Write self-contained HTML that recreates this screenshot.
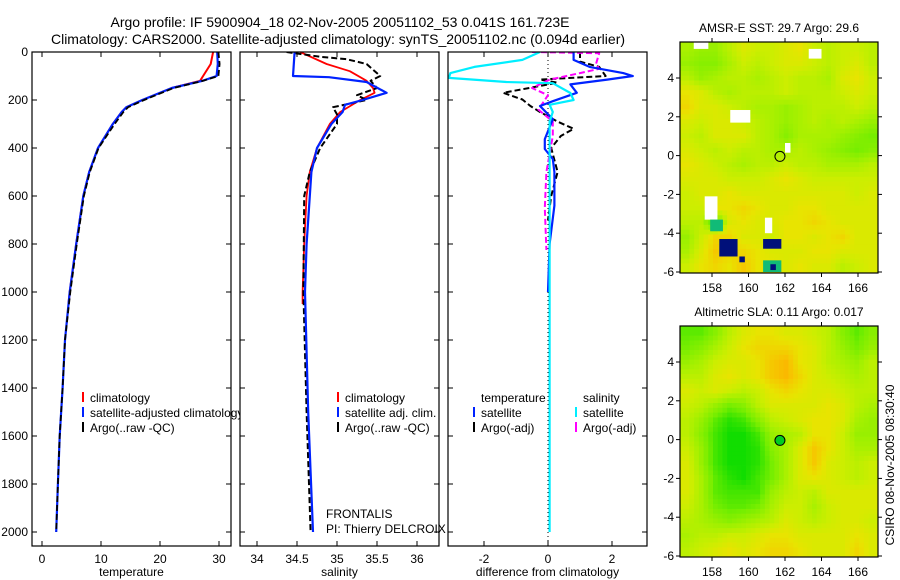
<!DOCTYPE html>
<html><head><meta charset="utf-8"><style>
html,body{margin:0;padding:0;background:#fff;}
svg{display:block;font-family:"Liberation Sans",sans-serif;}
</style></head><body>
<svg id="fig" width="900" height="580" viewBox="0 0 900 580" xmlns="http://www.w3.org/2000/svg"></svg>
<script>
// ---------- DATA ----------
const tempDepth = [0,50,100,120,150,200,230,250,300,400,500,600,800,1000,1200,1400,1600,1800,2000];
const tempArgo  = [29.9,30.1,29.9,27.3,22.3,17.3,14.6,13.8,12.3,9.6,8.1,7.1,5.9,4.8,3.9,3.5,3.0,2.7,2.4];
const tempClimDepth = [0,50,100,120,150,200,230,250,300,400,500,600,800,1000,1050];
const tempClim  = [29.0,28.6,27.3,26.8,22,17,14.3,13.5,12,9.5,8,7,5.8,4.7,4.5];
const tempSat   = [29.7,29.8,29.6,27.2,22,17,14.3,13.5,12,9.5,8,7,5.8,4.7,3.9,3.5,3.0,2.7,2.4];

const salDepth  = [0,100,105,125,170,200,220,250,300,400,500,600,800,1000,1500,2000];
const salSat    = [34.47,34.45,34.9,35.37,35.62,35.32,35.1,35.07,34.93,34.75,34.68,34.66,34.62,34.6,34.64,34.7];
const salClimDepth = [0,50,80,120,150,170,200,250,300,400,500,600,800,1000,1050];
const salClim   = [34.54,34.87,35.16,35.37,35.45,35.47,35.29,35.04,34.91,34.75,34.66,34.62,34.59,34.57,34.57];
const salArgoDepth = [0,20,30,50,100,120,150,180,200,230,260,300,400,500,600,1000,1500,2000];
const salArgo   = [34.37,34.79,35.12,35.37,35.54,35.42,35.5,35.25,35.37,34.95,35.0,35.0,34.79,34.66,34.59,34.58,34.62,34.67];

const dTDepth   = [0,33,62,88,100,115,135,170,205,225,280,363,404,446,500,640,800,1000];
const dTSat     = [0.8,0.8,1.3,2.35,2.65,1.85,0.7,0.9,0.15,-0.25,0.15,-0.1,-0.1,0.15,0.2,0.2,0.05,0.0];
const dTArgoDepth = [0,40,62,100,115,128,170,198,225,250,290,320,350,400,500,600,700];
const dTArgo    = [1.0,1.0,1.6,1.8,-0.25,0.3,-1.4,-0.8,-0.55,-0.25,0.3,0.8,0.4,0.1,0.3,0.1,0.0];
const dSDepth   = [0,33,62,88,108,125,130,171,200,220,250,290,500,1000,1500,2000];
const dSSat     = [-0.25,-0.8,-2.3,-3.05,-3.1,-1.3,0.15,0.7,0.8,0.05,0.15,0.05,0.05,0.05,0.05,0.05];
const dSArgoDepth = [0,5,50,70,88,115,150,180,240,290,350,500,650,825];
const dSArgo    = [-0.5,1.6,1.5,1.6,1.0,0.05,-0.5,0.0,-0.3,0.15,0.15,-0.05,-0.1,-0.05];

const depthTicks = [0,200,400,600,800,1000,1200,1400,1600,1800,2000];
const tempTicks = [0,10,20,30];
const salTicks = [34,34.5,35,35.5,36];
const diffTicks = [-2,0,2];
const lonTicks = [158,160,162,164,166];
const latTicks = [4,2,0,-2,-4,-6];

const sstGrid = [
[.55,.5,.5,.6,.7,.65,.65,.7,.75,.65,.6,.65,.65,.6],
[.5,.45,.45,.55,.65,.6,.65,.7,.7,.65,.6,.65,.7,.6],
[.6,.5,.55,.6,.6,.55,.6,.65,.6,.6,.55,.7,.75,.65],
[.75,.7,.6,.55,.6,.6,.6,.65,.6,.6,.6,.65,.7,.65],
[.8,.7,.7,.65,.6,.55,.55,.5,.55,.6,.6,.6,.65,.6],
[.7,.65,.7,.7,.65,.6,.55,.5,.55,.6,.55,.6,.55,.5],
[.65,.6,.7,.7,.7,.6,.55,.45,.55,.55,.55,.5,.45,.4],
[.7,.65,.6,.65,.6,.6,.55,.55,.6,.55,.5,.45,.4,.45],
[.75,.7,.65,.6,.55,.6,.6,.65,.6,.6,.55,.55,.55,.6],
[.7,.7,.7,.65,.65,.65,.7,.75,.7,.65,.65,.65,.65,.65],
[.65,.7,.7,.75,.7,.7,.7,.7,.7,.7,.7,.7,.65,.7],
[.65,.65,.75,.75,.8,.75,.7,.7,.75,.75,.7,.7,.7,.7],
[.6,.6,.3,.7,.75,.7,.7,.75,.75,.8,.75,.7,.7,.7],
[.5,.65,.8,.8,.7,.7,.65,.75,.75,.7,.75,.8,.7,.7],
[.55,.7,.85,.8,.8,.75,.7,.7,.7,.75,.75,.7,.7,.7],
[.65,.75,.8,.75,.85,.75,.75,.7,.75,.7,.7,.6,.65,.7]];
const slaGrid = [
[.35,.35,.45,.6,.7,.75,.75,.7,.7,.65,.6,.45,.35,.45],
[.4,.45,.55,.65,.75,.8,.8,.8,.75,.7,.6,.5,.4,.5],
[.5,.55,.65,.7,.7,.75,.85,.9,.75,.7,.6,.55,.5,.6],
[.6,.6,.7,.75,.7,.75,.85,.9,.8,.7,.65,.6,.55,.6],
[.7,.65,.7,.65,.6,.65,.75,.8,.75,.7,.7,.65,.6,.6],
[.65,.6,.5,.4,.45,.6,.7,.7,.7,.7,.75,.7,.6,.55],
[.6,.5,.35,.25,.3,.45,.6,.65,.7,.75,.75,.7,.55,.5],
[.6,.45,.3,.2,.2,.3,.5,.55,.6,.75,.75,.65,.5,.5],
[.65,.5,.3,.2,.2,.25,.45,.55,.7,.85,.75,.65,.55,.55],
[.7,.5,.3,.2,.2,.25,.4,.55,.7,.85,.7,.65,.6,.65],
[.7,.55,.35,.25,.2,.3,.4,.55,.7,.75,.7,.65,.6,.65],
[.7,.55,.35,.3,.3,.3,.5,.6,.65,.6,.7,.7,.7,.7],
[.65,.55,.4,.35,.35,.4,.55,.65,.65,.55,.65,.7,.7,.7],
[.6,.55,.5,.45,.5,.55,.6,.7,.65,.6,.65,.7,.7,.65],
[.55,.6,.6,.65,.65,.7,.75,.75,.7,.7,.7,.7,.75,.7],
[.6,.65,.7,.75,.7,.75,.8,.8,.75,.7,.7,.7,.8,.7]];
// special patches: [lon0, lon1, latTop, latBottom, color]
const sstPatches = [
[157.0,157.8,5.85,5.5,'#fff'],[159.0,160.1,2.35,1.7,'#fff'],[163.3,164.0,5.5,5.0,'#fff'],
[157.6,158.3,-2.1,-3.3,'#fff'],[162.0,162.3,0.65,0.15,'#fff'],[160.9,161.3,-3.2,-4.0,'#fff'],
[157.9,158.6,-3.3,-3.9,'#11bb77'],[158.4,159.4,-4.3,-5.2,'#00107a'],[160.8,161.8,-4.3,-4.8,'#00107a'],
[160.8,161.8,-5.4,-6.0,'#11bb77'],[161.2,161.5,-5.6,-5.9,'#00107a'],[159.5,159.8,-5.2,-5.5,'#00107a']];

// ---------- HELPERS ----------
const svg = document.getElementById('fig');
const NS = 'http://www.w3.org/2000/svg';
function mk(tag, attrs, parent){const e=document.createElementNS(NS,tag);for(const k in attrs)e.setAttribute(k,attrs[k]);(parent||svg).appendChild(e);return e;}
function txt(x,y,s,anchor,size,parent){const t=mk('text',{x:x,y:y,'text-anchor':anchor||'start','font-size':size||12,fill:'#000'},parent);t.textContent=s;return t;}

const PT=52, PB=546;
const yDepth = d => PT + d*0.24;
function linX(v0,p0,v1,p1){return v=>p0+(v-v0)*(p1-p0)/(v1-v0);}
const panels = [
 {x0:32,x1:231,fx:linX(0,42,30,219),ticks:tempTicks,label:'temperature',name:'temperature-panel'},
 {x0:240,x1:439,fx:linX(34,257,36,417),ticks:salTicks,label:'salinity',name:'salinity-panel'},
 {x0:448,x1:647,fx:linX(-2,484,2,612),ticks:diffTicks,label:'difference from climatology',name:'difference-panel'}];

function series(g,p,depths,vals,color,dash,w,name){
  const pts=depths.map((d,i)=>p.fx(vals[i]).toFixed(1)+','+yDepth(d).toFixed(1)).join(' ');
  const e=mk('polyline',{points:pts,fill:'none',stroke:color,'stroke-width':w||2,'stroke-linejoin':'round'},g);
  if(dash)e.setAttribute('stroke-dasharray',dash);
  
  
}

// titles
let t1=txt(340,27,'Argo profile: IF 5900904_18 02-Nov-2005 20051102_53 0.041S 161.723E','middle',14);

let t2=txt(338,44,'Climatology: CARS2000. Satellite-adjusted climatology: synTS_20051102.nc (0.094d earlier)','middle',14);


panels.forEach((p,pi)=>{
  const g=mk('g',{});
  
  
  mk('rect',{x:p.x0,y:PT,width:p.x1-p.x0,height:PB-PT,fill:'#fff'},g);
  const cid='clip'+pi;
  const cp=mk('clipPath',{id:cid},g);mk('rect',{x:p.x0,y:PT,width:p.x1-p.x0,height:PB-PT},cp);
  const inner=mk('g',{'clip-path':'url(#'+cid+')'},g);
  if(pi===0){
    series(inner,p,tempClimDepth,tempClim,'#ff0000',null,2,'climatology-line');
    series(inner,p,tempDepth,tempSat,'#0022ff',null,2.2,'satellite-line');
    series(inner,p,tempDepth,tempArgo,'#000',"6 3",1.8,'argo-line');
  } else if(pi===1){
    series(inner,p,salClimDepth,salClim,'#ff0000',null,1.8,'climatology-line');
    series(inner,p,salArgoDepth,salArgo,'#000',"6 3",2,'argo-line');
    series(inner,p,salDepth,salSat,'#0022ff',null,2.2,'satellite-line');
  } else {
    mk('line',{x1:p.fx(0),y1:PT,x2:p.fx(0),y2:PB,stroke:'#000','stroke-width':1,'stroke-dasharray':'1 3'},inner);
    series(inner,p,dTArgoDepth,dTArgo,'#000',"6 3",2,'temp-argo-diff-line');
    series(inner,p,dSArgoDepth,dSArgo,'#ff00ff',"6 3",2,'sal-argo-diff-line');
    series(inner,p,dTDepth,dTSat,'#0022ff',null,2.2,'temp-satellite-diff-line');
    series(inner,p,dSDepth,dSSat,'#00eeff',null,2.2,'sal-satellite-diff-line');
  }
  mk('rect',{x:p.x0,y:PT,width:p.x1-p.x0,height:PB-PT,fill:'none',stroke:'#000','stroke-width':1.2},g);
  p.ticks.forEach(v=>{
    const x=p.fx(v);
    mk('line',{x1:x,y1:PB,x2:x,y2:PB-5,stroke:'#000'},g);
    mk('line',{x1:x,y1:PT,x2:x,y2:PT+5,stroke:'#000'},g);
    txt(x,563,String(v),'middle',12,g);
  });
  depthTicks.forEach(d=>{
    const y=yDepth(d);
    mk('line',{x1:p.x0,y1:y,x2:p.x0+5,y2:y,stroke:'#000'},g);
    mk('line',{x1:p.x1,y1:y,x2:p.x1-5,y2:y,stroke:'#000'},g);
    if(pi===0) txt(28,y+4,String(d),'end',12,g);
  });
  txt((p.x0+p.x1)/2,576,p.label,'middle',12,g);
  svg.appendChild(g);
  p.g=g;
});

// legends
function leg(g,x,y,color,label,name){
  const lg=mk('g',{},g);
  
  
  mk('line',{x1:x,y1:y-10,x2:x,y2:y,stroke:color,'stroke-width':2},lg);
  txt(x+7,y,label,'start',12,lg);
}
leg(panels[0].g,83,402,'#ff0000','climatology','legend-climatology');
leg(panels[0].g,83,417,'#0022ff','satellite-adjusted climatology','legend-satellite');
leg(panels[0].g,83,432,'#000','Argo(..raw -QC)','legend-argo');
svg.appendChild(panels[1].g);
leg(panels[1].g,338,402,'#ff0000','climatology','legend-climatology-sal');
leg(panels[1].g,338,417,'#0022ff','satellite adj. clim.','legend-satellite-sal');
leg(panels[1].g,338,432,'#000','Argo(..raw -QC)','legend-argo-sal');
let f1=txt(326,518,'FRONTALIS','start',12,panels[1].g);

let f2=txt(326,533,'PI: Thierry DELCROIX','start',12,panels[1].g);

svg.appendChild(panels[2].g);
txt(481,402,'temperature','start',12,panels[2].g);
txt(583,402,'salinity','start',12,panels[2].g);
leg(panels[2].g,474,417,'#0022ff','satellite','legend-temp-satellite');
leg(panels[2].g,474,432,'#000','Argo(-adj)','legend-temp-argo');
leg(panels[2].g,576,417,'#00eeff','satellite','legend-sal-satellite');
leg(panels[2].g,576,432,'#ff00ff','Argo(-adj)','legend-sal-argo');

// ---------- MAPS ----------
const cstops=[[0.2,[17,221,0]],[0.4,[119,238,0]],[0.55,[170,240,0]],[0.65,[204,238,0]],[0.75,[232,228,0]],[0.85,[245,200,0]],[0.95,[255,170,0]]];
function cmap(v){
  if(v<=cstops[0][0])return 'rgb('+cstops[0][1]+')';
  for(let i=1;i<cstops.length;i++){if(v<=cstops[i][0]){const a=cstops[i-1],b=cstops[i],t=(v-a[0])/(b[0]-a[0]);return 'rgb('+a[1].map((c,k)=>Math.round(c+(b[1][k]-c)*t)).join(',')+')';}}
  return 'rgb('+cstops[cstops.length-1][1]+')';
}
function sample(grid,u,v){ // bilinear on cell centers
  const rows=grid.length, cols=grid[0].length;
  let x=u*cols-0.5, y=v*rows-0.5;
  x=Math.max(0,Math.min(cols-1,x)); y=Math.max(0,Math.min(rows-1,y));
  const i0=Math.floor(x), j0=Math.floor(y), i1=Math.min(cols-1,i0+1), j1=Math.min(rows-1,j0+1);
  const fx=x-i0, fy=y-j0;
  return grid[j0][i0]*(1-fx)*(1-fy)+grid[j0][i1]*fx*(1-fy)+grid[j1][i0]*(1-fx)*fy+grid[j1][i1]*fx*fy;
}
function drawMap(top,title,grid,patches,name,filledMarker){
  const X0=680,X1=878,Y0=top,Y1=top+231;
  const fx=linX(158,712,166,858), fy=linX(4,Y0+36,-6,Y1-1);
  const g=mk('g',{});
  
  
  const NC=42, NR=48, cw=(X1-X0)/NC, ch=(Y1-Y0)/NR;
  for(let j=0;j<NR;j++)for(let i=0;i<NC;i++){
    const v=sample(grid,(i+0.5)/NC,(j+0.5)/NR);
    const c=mk('rect',{x:(X0+i*cw).toFixed(2),y:(Y0+j*ch).toFixed(2),width:(cw+0.4).toFixed(2),height:(ch+0.4).toFixed(2),fill:cmap(v)},g);
    
    
  }
  patches.forEach(pt=>{
    const r=mk('rect',{x:fx(pt[0]),y:fy(pt[2]),width:fx(pt[1])-fx(pt[0]),height:fy(pt[3])-fy(pt[2]),fill:pt[4]},g);
    
    
  });
  const m=mk('circle',{cx:fx(161.723),cy:fy(-0.041),r:5,fill:filledMarker||'none',stroke:'#000','stroke-width':1},g);
  
  
  mk('rect',{x:X0,y:Y0,width:X1-X0,height:Y1-Y0,fill:'none',stroke:'#000','stroke-width':1.2},g);
  lonTicks.forEach(v=>{const x=fx(v);mk('line',{x1:x,y1:Y1,x2:x,y2:Y1+4,stroke:'#000'},g);mk('line',{x1:x,y1:Y0,x2:x,y2:Y0-4,stroke:'#000'},g);txt(x,Y1+19,String(v),'middle',12,g);});
  latTicks.forEach(v=>{const y=fy(v);mk('line',{x1:X0,y1:y,x2:X0-4,y2:y,stroke:'#000'},g);mk('line',{x1:X1,y1:y,x2:X1+4,y2:y,stroke:'#000'},g);txt(X0-6,y+4,String(v),'end',12,g);});
  txt((X0+X1)/2,Y0-10,title,'middle',12,g);
}
drawMap(42,'AMSR-E SST: 29.7 Argo: 29.6',sstGrid,sstPatches,'sst-map',null);
drawMap(326,'Altimetric SLA: 0.11 Argo: 0.017',slaGrid,[],'sla-map','#00cc22');

const cs=txt(0,0,'CSIRO 08-Nov-2005 08:30:40','middle',12);
cs.setAttribute('transform','translate(894,465) rotate(-90)');


</script>
</body></html>
